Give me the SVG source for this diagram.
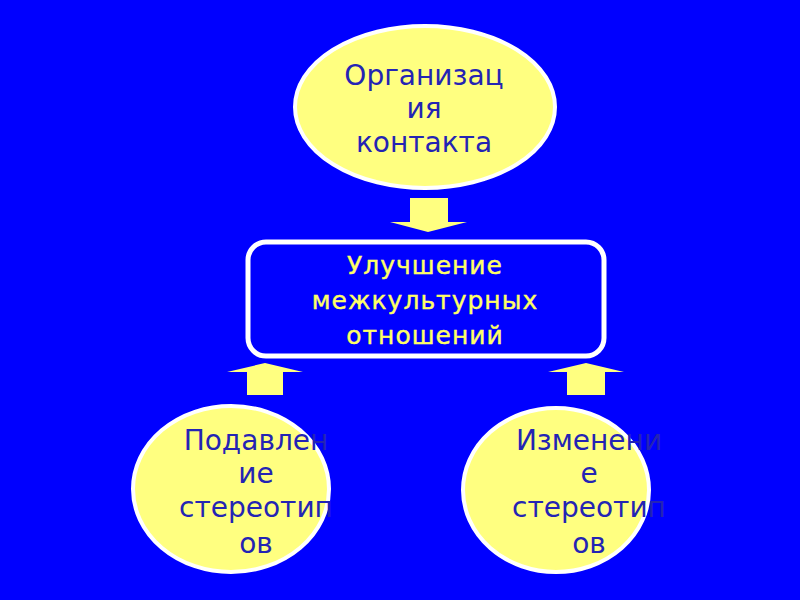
<svg xmlns="http://www.w3.org/2000/svg" width="800" height="600" viewBox="0 0 800 600">
<style>
.ell{fill:#ffff80;stroke:#ffffff;stroke-width:4}
.arr{fill:#ffff80;stroke:none}
.t1{font-family:"DejaVu Sans",Verdana,sans-serif;font-size:28px;fill:#2424b4;text-anchor:middle}
.t2{font-family:"DejaVu Sans",Verdana,sans-serif;font-size:25px;fill:#ffff66;stroke:#ffff66;stroke-width:0.4;text-anchor:middle;letter-spacing:1px}
</style>
<rect width="800" height="600" fill="#0000ff"/>
<g id="connectors">
<polygon class="arr" points="410,198 448,198 448,222 467,222 428,232 390,222 410,222"/>
<polygon class="arr" points="247,395 283,395 283,372 303,372 265,363 227,372 247,372"/>
<polygon class="arr" points="567,395 605,395 605,372 624,372 586,363 548,372 567,372"/>
</g>
<g id="n1">
<ellipse class="ell" cx="425" cy="107" rx="130" ry="81"/>
<text class="t1" x="424" y="85">Организац</text>
<text class="t1" x="424" y="118">ия</text>
<text class="t1" x="424" y="152">контакта</text>
</g>
<g id="n2">
<rect x="248" y="242" width="356" height="114" rx="18" fill="#0000ff" stroke="#ffffff" stroke-width="5"/>
<text class="t2" x="425" y="274">Улучшение</text>
<text class="t2" x="425" y="309">межкультурных</text>
<text class="t2" x="425" y="344">отношений</text>
</g>
<g id="n3">
<ellipse class="ell" cx="231" cy="489" rx="98" ry="83"/>
<text class="t1" x="256" y="450">Подавлен</text>
<text class="t1" x="256" y="483">ие</text>
<text class="t1" x="256" y="517">стереотип</text>
<text class="t1" x="256" y="553">ов</text>
</g>
<g id="n4">
<ellipse class="ell" cx="556" cy="490" rx="93" ry="82"/>
<text class="t1" x="589" y="450">Изменени</text>
<text class="t1" x="589" y="483">е</text>
<text class="t1" x="589" y="517">стереотип</text>
<text class="t1" x="589" y="553">ов</text>
</g>
</svg>
